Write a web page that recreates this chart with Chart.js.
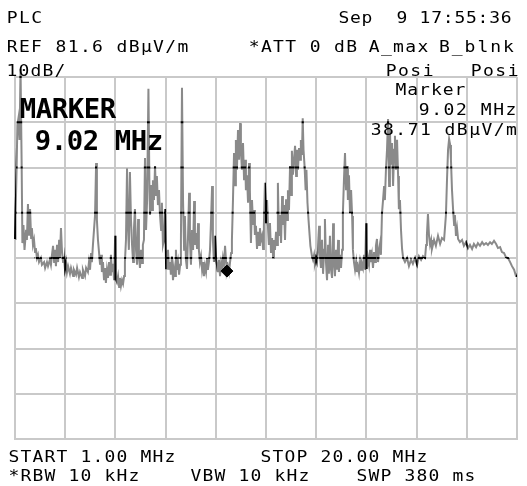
<!DOCTYPE html>
<html>
<head>
<meta charset="utf-8">
<title>PLC spectrum</title>
<script src="https://cdn.jsdelivr.net/npm/chart.js@4.4.0/dist/chart.umd.min.js"></script>
<style>
  html, body { margin: 0; padding: 0; background: #fff; overflow: hidden; }
  #wrap { position: relative; width: 527px; height: 486px; }
</style>
</head>
<body>
<div id="wrap"><canvas id="plc" width="527" height="486"></canvas></div>
<script>
// trace A (max hold), frequency in MHz / level in dBuV/m
var freqMHz = [
  1.00,1.02,1.06,1.09,1.13,1.17,1.21,1.25,1.28,1.32,1.36,1.42,1.45,1.49,1.53,1.57,1.61,1.64,1.68,1.72,
  1.76,1.79,1.83,1.87,1.91,1.98,2.02,2.10,2.14,2.21,2.25,2.32,2.36,2.40,2.44,2.48,2.51,2.55,2.59,2.63,
  2.67,2.70,2.74,2.78,2.82,2.85,2.89,2.93,2.97,3.01,3.08,3.12,3.20,3.23,3.31,3.35,3.42,3.46,3.54,3.57,
  3.65,3.69,3.76,3.80,3.84,3.88,3.91,3.95,3.99,4.03,4.07,4.10,4.14,4.18,4.22,4.26,4.29,4.33,4.37,4.41,
  4.44,4.48,4.52,4.56,4.60,4.63,4.67,4.71,4.75,4.79,4.82,4.86,4.90,4.94,4.97,5.01,5.05,5.09,5.13,5.16,
  5.20,5.24,5.28,5.31,5.35,5.39,5.43,5.47,5.50,5.54,5.58,5.62,5.66,5.69,5.73,5.77,5.81,5.84,5.88,5.92,
  5.96,6.00,6.05,6.09,6.11,6.15,6.19,6.22,6.26,6.30,6.34,6.37,6.41,6.45,6.49,6.53,6.56,6.60,6.64,6.68,
  6.72,6.75,6.79,6.83,6.87,6.90,6.94,6.98,7.02,7.06,7.09,7.13,7.17,7.21,7.25,7.28,7.32,7.36,7.40,7.43,
  7.47,7.51,7.55,7.59,7.62,7.66,7.70,7.74,7.78,7.81,7.85,7.89,7.93,7.96,8.00,8.04,8.08,8.12,8.15,8.19,
  8.23,8.27,8.30,8.34,8.38,8.42,8.46,8.49,8.53,8.57,8.61,8.65,8.68,8.72,8.76,8.80,8.83,8.87,8.91,8.95,
  8.99,9.02,9.06,9.10,9.14,9.18,9.21,9.25,9.29,9.33,9.36,9.40,9.44,9.48,9.52,9.55,9.59,9.63,9.67,9.71,
  9.74,9.78,9.82,9.86,9.89,9.93,9.97,10.01,10.05,10.08,10.12,10.16,10.20,10.24,10.27,10.31,10.35,10.39,10.42,10.46,
  10.50,10.54,10.58,10.61,10.65,10.69,10.73,10.77,10.80,10.84,10.88,10.92,10.95,10.99,11.03,11.07,11.11,11.14,11.18,11.22,
  11.26,11.30,11.33,11.37,11.41,11.45,11.48,11.52,11.56,11.60,11.64,11.67,11.71,11.75,11.79,11.82,11.86,11.89,11.92,11.96,
  12.00,12.03,12.07,12.11,12.15,12.18,12.24,12.28,12.32,12.35,12.39,12.43,12.47,12.51,12.54,12.58,12.62,12.66,12.70,12.73,
  12.77,12.81,12.85,12.88,12.92,12.96,13.00,13.04,13.07,13.11,13.15,13.19,13.23,13.26,13.30,13.34,13.38,13.41,13.45,13.49,
  13.53,13.57,13.60,13.64,13.68,13.72,13.76,13.79,13.83,13.87,13.91,13.94,13.98,14.02,14.06,14.10,14.13,14.17,14.21,14.25,
  14.29,14.32,14.36,14.40,14.44,14.47,14.51,14.55,14.59,14.63,14.66,14.70,14.74,14.78,14.82,14.85,14.89,14.93,14.97,15.00,
  15.04,15.08,15.12,15.16,15.19,15.23,15.27,15.31,15.35,15.38,15.42,15.46,15.50,15.53,15.57,15.61,15.65,15.69,15.76,15.84,
  15.91,15.99,16.06,16.14,16.22,16.29,16.37,16.44,16.52,16.56,16.59,16.63,16.67,16.71,16.75,16.78,16.86,16.93,17.01,17.09,
  17.16,17.24,17.31,17.35,17.39,17.43,17.47,17.50,17.54,17.58,17.62,17.65,17.69,17.73,17.77,17.84,17.92,17.99,18.07,18.15,
  18.22,18.30,18.37,18.45,18.52,18.60,18.68,18.75,18.83,18.90,18.98,19.05,19.13,19.21,19.28,19.36,19.43,19.51,19.58,19.66,
  19.74,19.81,19.89,19.96,20.00
];
var levelDb = [
  45.8,50.9,61.1,71.0,72.5,67.7,83.4,63.3,44.9,48.9,43.4,47.8,45.6,53.5,46.5,52.4,46.0,48.2,44.5,45.6,
  42.9,43.8,41.6,42.3,40.7,41.6,40.1,40.7,39.4,40.7,39.8,41.2,40.1,42.3,44.3,40.7,43.4,39.8,44.5,40.7,
  45.6,41.6,48.2,42.9,40.7,42.0,39.2,40.7,38.5,39.8,38.1,39.4,37.6,39.0,37.9,39.4,37.4,38.5,37.2,39.0,
  37.6,39.4,38.5,40.7,39.0,42.7,40.7,44.5,47.8,51.1,62.6,50.0,45.6,42.9,40.1,42.3,38.5,40.7,36.7,39.4,
  36.1,39.0,37.2,40.7,37.9,42.3,38.5,40.3,36.7,46.5,37.0,36.3,37.6,35.2,37.2,35.4,36.7,35.9,37.6,40.7,
  45.6,61.3,47.8,43.4,60.6,50.0,44.5,40.7,47.8,52.4,43.4,40.1,50.2,42.3,39.4,43.4,40.5,44.5,45.6,63.7,
  47.8,54.4,79.0,56.6,51.1,57.7,52.2,58.8,54.4,61.9,55.5,59.7,53.3,56.6,50.9,47.8,53.8,44.5,45.6,52.4,
  39.2,40.7,43.4,39.0,40.7,37.9,42.0,36.7,39.4,37.6,43.4,39.0,40.7,37.9,40.1,45.6,79.2,54.4,43.4,50.9,
  41.2,39.2,46.7,56.0,45.6,40.1,47.8,43.4,54.2,44.5,47.1,43.6,49.3,43.4,40.7,42.0,39.0,40.7,37.6,39.8,
  38.5,41.6,39.0,40.7,43.4,50.0,57.5,45.6,40.7,46.5,41.6,39.8,38.5,41.2,37.6,40.3,39.0,41.6,40.1,44.3,
  40.7,38.71,39.8,38.5,40.7,42.7,45.6,54.4,64.8,57.7,67.7,61.1,69.9,63.3,71.4,65.5,61.1,67.0,58.8,63.3,
  56.6,59.9,53.8,62.6,56.6,44.9,54.4,48.9,52.2,46.7,48.7,43.6,47.4,44.5,48.2,45.6,46.5,43.6,48.9,58.2,
  49.3,54.4,47.8,44.5,49.3,42.7,46.0,41.6,45.6,43.4,47.4,44.5,58.2,46.5,51.1,44.9,55.3,48.9,53.3,45.6,
  54.6,50.0,56.6,52.2,61.9,55.5,65.3,60.0,63.3,66.4,59.7,65.5,61.1,65.9,63.3,67.7,64.4,72.5,65.5,61.9,
  56.6,61.1,53.8,50.0,46.7,44.3,42.0,41.2,42.3,40.5,41.6,40.7,43.4,48.7,42.3,39.4,45.6,38.1,43.4,50.2,
  40.7,36.7,44.5,38.1,46.5,39.0,37.2,49.3,40.7,37.6,43.4,39.0,45.6,38.5,42.3,39.4,43.4,51.5,58.8,64.8,
  56.6,61.9,54.4,59.9,51.5,56.6,50.9,43.4,40.7,39.0,40.7,38.5,39.8,38.3,40.7,39.0,40.3,39.4,42.3,39.0,
  49.3,39.2,41.6,40.1,43.4,40.7,42.3,39.4,42.9,40.7,44.3,45.8,40.7,43.4,44.9,42.3,51.5,54.4,57.5,54.4,
  61.1,65.5,72.3,57.5,69.9,62.2,67.0,57.5,65.5,68.6,61.1,67.7,59.7,52.4,54.4,47.8,43.6,41.6,40.7,41.6,
  39.8,41.2,40.3,41.6,40.1,42.0,41.2,42.0,41.6,44.5,46.7,51.3,46.5,44.5,45.6,43.6,45.6,44.3,46.5,44.7,
  46.0,45.6,51.1,58.8,65.5,67.9,66.6,63.3,56.6,52.4,48.9,51.1,46.5,48.2,45.8,45.1,45.6,44.3,45.1,43.8,
  44.5,43.6,44.7,44.0,44.9,44.3,45.1,44.5,44.9,44.5,45.1,44.7,45.4,44.7,43.8,44.0,42.9,42.7,41.8,41.6,
  40.7,39.8,39.0,37.6,37.6
];

// marker
var markerMHz = [9.02];
var markerDb = [38.71];

// graticule: 10 divisions of 1.9 MHz, 8 divisions of 10 dB below REF 81.6
var gridMHz = [1, 2.9, 4.8, 6.7, 8.6, 10.5, 12.4, 14.3, 16.2, 18.1, 20];
var gridDb = [1.6, 11.6, 21.6, 31.6, 41.6, 51.6, 61.6, 71.6, 81.6];

// screen annotations
var headerTexts = ["PLC", "Sep  9 17:55:36", "REF 81.6 dB\u00b5V/m", "*ATT 0 dB", "A_max", "B_blnk", "10dB/", "Posi", "Posi"];
var markerTexts = ["Marker", "9.02 MHz", "38.71 dB\u00b5V/m"];
var bigTexts = ["MARKER", "9.02 MHz"];
var footerTexts = ["START 1.00 MHz", "STOP 20.00 MHz", "*RBW 10 kHz", "VBW 10 kHz", "SWP 380 ms"];

var gridColor = '#c9c9c9';
var traceColor = '#8a8a8a';
var monoFont = '"DejaVu Sans Mono", "Liberation Mono", monospace';

var tracePoints = [];
var n = Math.min(freqMHz.length, levelDb.length);
for (var i = 0; i < n; i++) {
    tracePoints.push({x: freqMHz[i], y: levelDb[i]});
}
var markerPoints = markerMHz.map(function (f, i) { return {x: f, y: markerDb[i]}; });

// fixed pitch text, one character per cell like the analyzer screen,
// glyphs stretched a bit since the screen font is wider than DejaVu
function drawMono(ctx, str, x0, base, pitch, stretch) {
    for (var i = 0; i < str.length; i++) {
        ctx.save();
        ctx.translate(x0 + i * pitch + pitch / 2, base);
        ctx.scale(stretch || 1.2, 1);
        ctx.fillText(str[i], 0, 0);
        ctx.restore();
    }
}

// the screen goes black where the trace runs over a graticule line
var overlapPlugin = {
    id: 'overlap',
    afterDatasetsDraw: function (chart) {
        var ctx = chart.ctx, area = chart.chartArea;
        var sx = chart.scales.x, sy = chart.scales.y;
        var pts = chart.getDatasetMeta(1).data;
        ctx.save();
        ctx.beginPath();
        sx.ticks.forEach(function (t) {
            var px = sx.getPixelForValue(t.value);
            ctx.rect(px - 1, area.top - 1, 2, area.bottom - area.top + 2);
        });
        sy.ticks.forEach(function (t) {
            var py = sy.getPixelForValue(t.value);
            ctx.rect(area.left - 1, py - 1, area.right - area.left + 2, 2);
        });
        ctx.clip();
        ctx.beginPath();
        pts.forEach(function (p, i) {
            if (i === 0) ctx.moveTo(p.x, p.y); else ctx.lineTo(p.x, p.y);
        });
        ctx.strokeStyle = '#000';
        ctx.lineWidth = 2;
        ctx.stroke();
        ctx.restore();
    }
};

var textPlugin = {
    id: 'screenText',
    afterDraw: function (chart) {
        var ctx = chart.ctx;
        ctx.save();
        ctx.fillStyle = '#000';
        ctx.textAlign = 'center';
        ctx.textBaseline = 'alphabetic';
        ctx.font = '15px ' + monoFont;
        drawMono(ctx, headerTexts[0], 6, 23, 12.3);
        drawMono(ctx, headerTexts[1], 338, 23, 11.6);
        drawMono(ctx, headerTexts[2], 6, 52, 12.2);
        drawMono(ctx, headerTexts[3], 248, 52, 12.2);
        drawMono(ctx, headerTexts[4], 368, 52, 12.2);
        drawMono(ctx, headerTexts[5], 438, 52, 12.8);
        drawMono(ctx, headerTexts[6], 6, 76, 12);
        drawMono(ctx, headerTexts[7], 385, 76, 12.3);
        drawMono(ctx, headerTexts[8], 470, 76, 12.3);

        drawMono(ctx, markerTexts[0], 395, 95, 11.8);
        drawMono(ctx, markerTexts[1], 418, 115, 12.4);
        drawMono(ctx, markerTexts[2], 370, 135, 12.3);

        drawMono(ctx, footerTexts[0], 8, 462, 12);
        drawMono(ctx, footerTexts[1], 260, 462, 12);
        drawMono(ctx, footerTexts[2], 8, 481, 12);
        drawMono(ctx, footerTexts[3], 190, 481, 12);
        drawMono(ctx, footerTexts[4], 356, 481, 12);

        ctx.font = 'bold 26px ' + monoFont;
        drawMono(ctx, bigTexts[0], 20, 118, 16, 1.05);
        drawMono(ctx, bigTexts[1], 35, 150, 16, 1.05);
        ctx.restore();
    }
};

var chart = new Chart(document.getElementById('plc'), {
    type: 'scatter',
    data: {
        datasets: [{
            label: 'Marker',
            data: markerPoints,
            showLine: false,
            pointStyle: 'rectRot',
            pointRadius: 6,
            backgroundColor: '#000',
            borderColor: '#000',
            borderWidth: 1
        }, {
            label: 'A_max',
            data: tracePoints,
            showLine: true,
            borderColor: traceColor,
            borderWidth: 2,
            pointRadius: 0,
            tension: 0,
            clip: false
        }]
    },
    options: {
        responsive: false,
        animation: false,
        layout: {
            padding: {left: 15, right: 10, top: 77, bottom: 47}
        },
        plugins: {
            legend: {display: false},
            tooltip: {enabled: false}
        },
        scales: {
            x: {
                type: 'linear',
                min: 1,
                max: 20,
                afterBuildTicks: function (scale) {
                    scale.ticks = gridMHz.map(function (v) { return {value: v}; });
                },
                afterFit: function (scale) { scale.height = 0; },
                ticks: {display: false},
                grid: {color: gridColor, lineWidth: 2, drawTicks: false},
                border: {color: gridColor, width: 2}
            },
            y: {
                min: 1.6,
                max: 81.6,
                afterBuildTicks: function (scale) {
                    scale.ticks = gridDb.map(function (v) { return {value: v}; });
                },
                afterFit: function (scale) { scale.width = 0; },
                ticks: {display: false},
                grid: {color: gridColor, lineWidth: 2, drawTicks: false},
                border: {color: gridColor, width: 2}
            }
        }
    },
    plugins: [overlapPlugin, textPlugin]
});
</script>
</body>
</html>
